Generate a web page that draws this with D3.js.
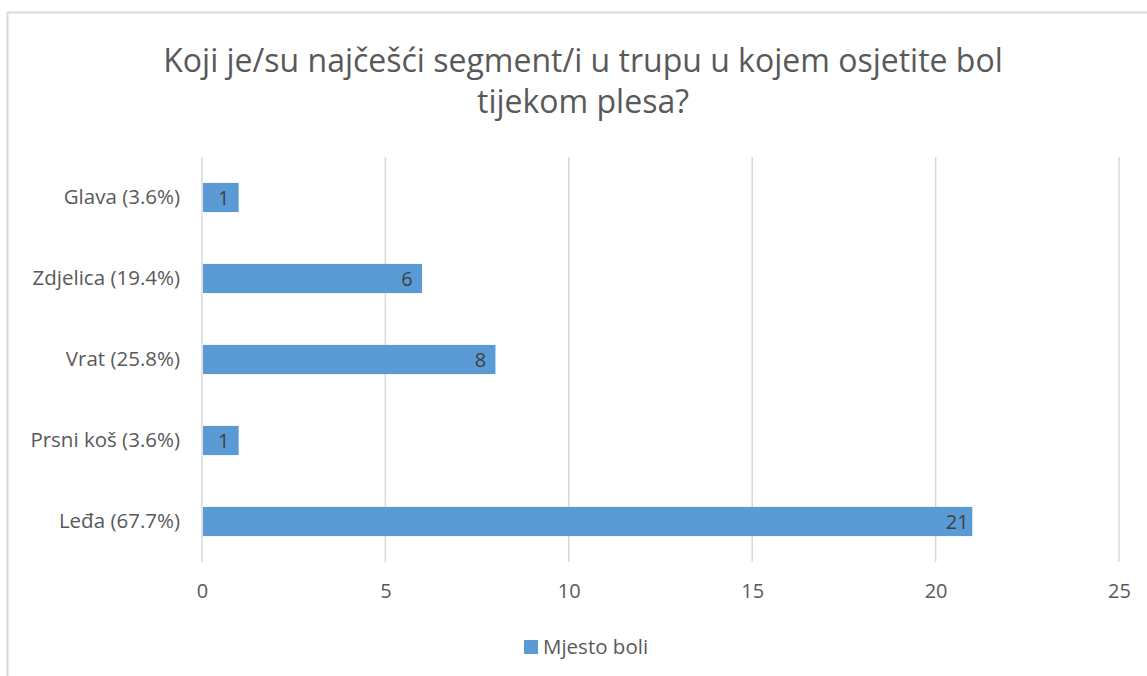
<!DOCTYPE html>
<html>
<head>
<meta charset="utf-8">
<script src="https://cdn.jsdelivr.net/npm/d3@7"></script>
<style>
  body { margin: 0; background: #fff; }
  text { font-family: "Open Sans", "Noto Sans", sans-serif; fill: #595959; }
</style>
</head>
<body>
<script>
// Podaci
const kategorije = ["Glava (3.6%)", "Zdjelica (19.4%)", "Vrat (25.8%)", "Prsni koš (3.6%)", "Leđa (67.7%)"];
const vrijednosti = [1, 6, 8, 1, 21];
const tickovi = [0, 5, 10, 15, 20, 25];
const naslov = ["Koji je/su najčešći segment/i u trupu u kojem osjetite bol", "tijekom plesa?"];
const serija = "Mjesto boli";

const W = 1147, H = 676;
const svg = d3.select("body").append("svg").attr("width", W).attr("height", H);

// okvir grafikona
svg.append("rect")
  .attr("x", 7.5).attr("y", 12.5)
  .attr("width", W + 10).attr("height", H + 10)
  .attr("fill", "none").attr("stroke", "#d9d9d9").attr("stroke-width", 2);

// naslov (dva reda)
svg.selectAll(".naslov")
  .data(naslov)
  .join("text")
  .attr("class", "naslov")
  .attr("x", 583)
  .attr("y", (_, i) => 72 + i * 41)
  .attr("text-anchor", "middle")
  .style("font-size", "32px")
  .text(d => d);

const x = d3.scaleLinear().domain([0, 25]).range([202, 1119]);
const y = d3.scaleBand().domain(kategorije).range([157, 562]).paddingInner(0.64).paddingOuter(0.32);

// mreža
svg.append("g")
  .selectAll("line")
  .data(tickovi)
  .join("line")
  .attr("x1", d => x(d)).attr("x2", d => x(d))
  .attr("y1", 157).attr("y2", 562)
  .attr("stroke", "#d9d9d9").attr("stroke-width", 1.5);

// x os
const xOs = svg.append("g")
  .attr("transform", "translate(0,562)")
  .call(d3.axisBottom(x).tickValues(tickovi).tickSize(0).tickPadding(22));
xOs.select(".domain").remove();
xOs.selectAll("text").style("font-size", "20px").attr("fill", "#595959");

// y os
const yOs = svg.append("g")
  .attr("transform", "translate(202,0)")
  .call(d3.axisLeft(y).tickSize(0).tickPadding(22));
yOs.select(".domain").remove();
yOs.selectAll("text").style("font-size", "20.5px").attr("fill", "#595959");

// trake
svg.append("g")
  .selectAll("rect")
  .data(vrijednosti)
  .join("rect")
  .attr("x", x(0) + 1)
  .attr("y", (_, i) => y(kategorije[i]))
  .attr("width", d => x(d) - x(0) - 1)
  .attr("height", y.bandwidth())
  .attr("fill", "#5b9bd5");

// oznake vrijednosti
svg.append("g")
  .selectAll("text")
  .data(vrijednosti)
  .join("text")
  .attr("x", d => x(d) - 15)
  .attr("y", (_, i) => y(kategorije[i]) + y.bandwidth() / 2)
  .attr("dy", "0.36em")
  .attr("text-anchor", "middle")
  .style("font-size", "20px")
  .style("fill", "#404040")
  .text(d => d);

// legenda
svg.append("rect")
  .attr("x", 524).attr("y", 640).attr("width", 14).attr("height", 14)
  .attr("fill", "#5b9bd5");
svg.append("text")
  .attr("x", 543).attr("y", 654)
  .style("font-size", "20.5px")
  .text(serija);
</script>
</body>
</html>
